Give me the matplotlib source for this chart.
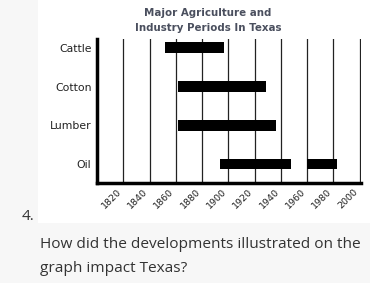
import matplotlib
matplotlib.use("Agg")
import matplotlib.pyplot as plt
from matplotlib.patches import Rectangle

industries = ["Cattle", "Cotton", "Lumber", "Oil"]
rows = [3, 2, 1, 0]
# (start, end) years per period
periods = {
    "Cattle": [(1852, 1897)],
    "Cotton": [(1862, 1929)],
    "Lumber": [(1862, 1936)],
    "Oil": [(1894, 1948), (1960, 1983)],
}
years = list(range(1820, 2001, 20))

fig = plt.figure(figsize=(3.7, 2.83), dpi=100, facecolor="#f7f7f7")
fig.patches.append(Rectangle((38 / 370, 60 / 283), 1, 1, transform=fig.transFigure,
                             facecolor="white", edgecolor="none", zorder=-5))

ax = fig.add_axes([97 / 370, 100 / 283, 264 / 370, 144 / 283])
ax.set_facecolor("white")

for name, y in zip(industries, rows):
    for start, end in periods[name]:
        ax.barh(y, end - start, left=start, height=0.28, color="black", zorder=3)

for yr in years:
    ax.axvline(yr, color="#222222", lw=0.9, zorder=1)

ax.set_xlim(1800, 2001)
ax.set_ylim(-0.49, 3.23)
ax.set_yticks(rows)
ax.set_yticklabels(industries, fontsize=7.8, color="#222222")
ax.set_xticks(years)
ax.set_xticklabels([str(y) for y in years], rotation=45, ha="right", va="top",
                   fontsize=6.8, color="#222222")
ax.tick_params(length=0, pad=3)
ax.tick_params(axis="y", pad=4)
for side in ["top", "right"]:
    ax.spines[side].set_visible(False)
for side in ["left", "bottom"]:
    ax.spines[side].set_linewidth(2.5)
    ax.spines[side].set_color("black")

fig.text(208 / 370, 1 - 13 / 283, "Major Agriculture and", ha="center", va="center",
         fontsize=7.4, fontweight="bold", color="#4a4f5e")
fig.text(208 / 370, 1 - 28 / 283, "Industry Periods In Texas", ha="center", va="center",
         fontsize=7.4, fontweight="bold", color="#4a4f5e")

fig.text(22 / 370, 1 - 217 / 283, "4.", ha="left", va="center", fontsize=11,
         family="Open Sans", color="#333333")
fig.text(40 / 370, 1 - 244 / 283, "How did the developments illustrated on the",
         ha="left", va="center", fontsize=11.1, family="Open Sans", color="#333333")
fig.text(40 / 370, 1 - 268 / 283, "graph impact Texas?",
         ha="left", va="center", fontsize=11.1, family="Open Sans", color="#333333")

fig.savefig("out.png", dpi=100, facecolor=fig.get_facecolor())
